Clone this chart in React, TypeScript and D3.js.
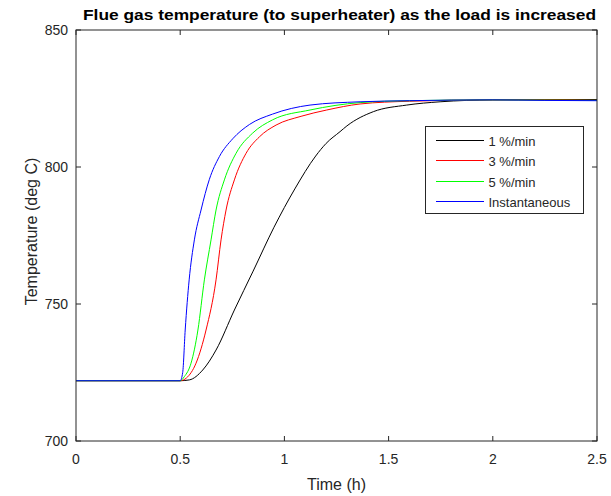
import React from "react";
import * as d3 from "d3";

const time1 = [0, 0.5, 0.544, 0.608, 0.672, 0.76, 0.85, 0.95, 1.05, 1.15, 1.2, 1.267, 1.3, 1.427, 1.587, 1.747, 2.0, 2.25, 2.5];
const temp1 = [722, 722, 722.3, 725.9, 733.2, 747.8, 762, 778, 792, 804, 808.6, 812.9, 815, 820.2, 822.6, 823.8, 824.5, 824.6, 824.6];

const time3 = [0, 0.5, 0.53, 0.576, 0.624, 0.672, 0.696, 0.72, 0.76, 0.816, 0.88, 0.96, 1.08, 1.203, 1.363, 1.6, 2.0, 2.25, 2.5];
const temp3 = [722, 722, 723, 728.4, 740.5, 758.8, 773.4, 784.3, 795.3, 805, 811, 815.3, 818.5, 820.8, 823, 824, 824.5, 824.5, 824.3];

const time5 = [0, 0.5, 0.52, 0.552, 0.585, 0.616, 0.648, 0.672, 0.712, 0.768, 0.848, 0.943, 1.123, 1.363, 1.6, 2.0, 2.25, 2.5];
const temp5 = [722, 722, 723.5, 728.4, 740.5, 758.8, 773.4, 784.3, 795.3, 805, 812.4, 817.2, 820.8, 823.5, 824.2, 824.5, 824.4, 824.3];

const timeInst = [0, 0.5, 0.512, 0.524, 0.543, 0.568, 0.6, 0.64, 0.688, 0.752, 0.832, 0.943, 1.123, 1.363, 1.6, 2.0, 2.25, 2.5];
const tempInst = [722, 722, 725, 740.5, 758.8, 773.4, 784.3, 795.5, 803.8, 810.3, 815.5, 819.3, 822.6, 823.8, 824.2, 824.5, 824.3, 824.2];

const seriesNames = ["1 %/min", "3 %/min", "5 %/min", "Instantaneous"];
const seriesColors = ["#000000", "#ff0000", "#00ff00", "#0000ff"];
const seriesTimes = [time1, time3, time5, timeInst];
const seriesTemps = [temp1, temp3, temp5, tempInst];

const xTicks = [0, 0.5, 1, 1.5, 2, 2.5];
const yTicks = [700, 750, 800, 850];

const W = 611;
const H = 496;
const left = 76;
const right = 597;
const top = 30;
const bottom = 441;

export default function App() {
  const x = d3.scaleLinear().domain([0, 2.5]).range([left, right]);
  const y = d3.scaleLinear().domain([700, 850]).range([bottom, top]);
  const axisColor = "#262626";
  const font = "'Liberation Sans', Arial, Helvetica, sans-serif";
  const tickLen = 5;

  const legX = 425.5;
  const legY = 126.5;
  const legW = 158;
  const legH = 87;

  return (
    <svg width={W} height={H} style={{ position: "absolute", left: 0, top: 0, background: "#fff" }} fontFamily={font}>
      <rect x={0} y={0} width={W} height={H} fill="#fff" />
      <defs>
        <clipPath id="plotclip">
          <rect x={left} y={top} width={right - left} height={bottom - top} />
        </clipPath>
      </defs>
      <text x={83} y={20} fontSize={15} fontWeight="bold" fill="#000" textLength={513} lengthAdjust="spacingAndGlyphs">
        Flue gas temperature (to superheater) as the load is increased
      </text>
      <g clipPath="url(#plotclip)">
        {seriesTemps.map((vals, k) => {
          const ts = seriesTimes[k];
          const line = d3
            .line<number>()
            .x((_, i) => x(ts[i]))
            .y((d) => y(d))
            .curve(d3.curveMonotoneX);
          return <path key={k} d={line(vals) || ""} fill="none" stroke={seriesColors[k]} strokeWidth={1} />;
        })}
      </g>
      <rect x={left} y={top} width={right - left} height={bottom - top} fill="none" stroke={axisColor} strokeWidth={1} />
      {xTicks.map((t) => (
        <g key={"x" + t}>
          <line x1={x(t)} x2={x(t)} y1={bottom} y2={bottom - tickLen} stroke={axisColor} />
          <line x1={x(t)} x2={x(t)} y1={top} y2={top + tickLen} stroke={axisColor} />
          <text x={x(t)} y={bottom + 23} textAnchor="middle" fontSize={14} fill={axisColor}>
            {String(t)}
          </text>
        </g>
      ))}
      {yTicks.map((t) => (
        <g key={"y" + t}>
          <line x1={left} x2={left + tickLen} y1={y(t)} y2={y(t)} stroke={axisColor} />
          <line x1={right} x2={right - tickLen} y1={y(t)} y2={y(t)} stroke={axisColor} />
          <text x={left - 8} y={y(t) + 5} textAnchor="end" fontSize={14} fill={axisColor}>
            {String(t)}
          </text>
        </g>
      ))}
      <text x={(left + right) / 2} y={490} textAnchor="middle" fontSize={16} fill={axisColor}>
        Time (h)
      </text>
      <text transform={`translate(37, ${(top + bottom) / 2 - 4}) rotate(-90)`} textAnchor="middle" fontSize={16} fill={axisColor}>
        Temperature (deg C)
      </text>
      <rect x={legX} y={legY} width={legW} height={legH} fill="#fff" stroke={axisColor} strokeWidth={1} />
      {seriesNames.map((n, k) => {
        const ly = Math.round(legY + 13 + k * 20.5) + 0.5;
        return (
          <g key={n}>
            <line x1={legX + 10} x2={legX + 58} y1={ly} y2={ly} stroke={seriesColors[k]} strokeWidth={1.2} shapeRendering="crispEdges" />
            <text x={legX + 63} y={ly + 5} fontSize={13} fill={axisColor}>
              {n}
            </text>
          </g>
        );
      })}
    </svg>
  );
}
